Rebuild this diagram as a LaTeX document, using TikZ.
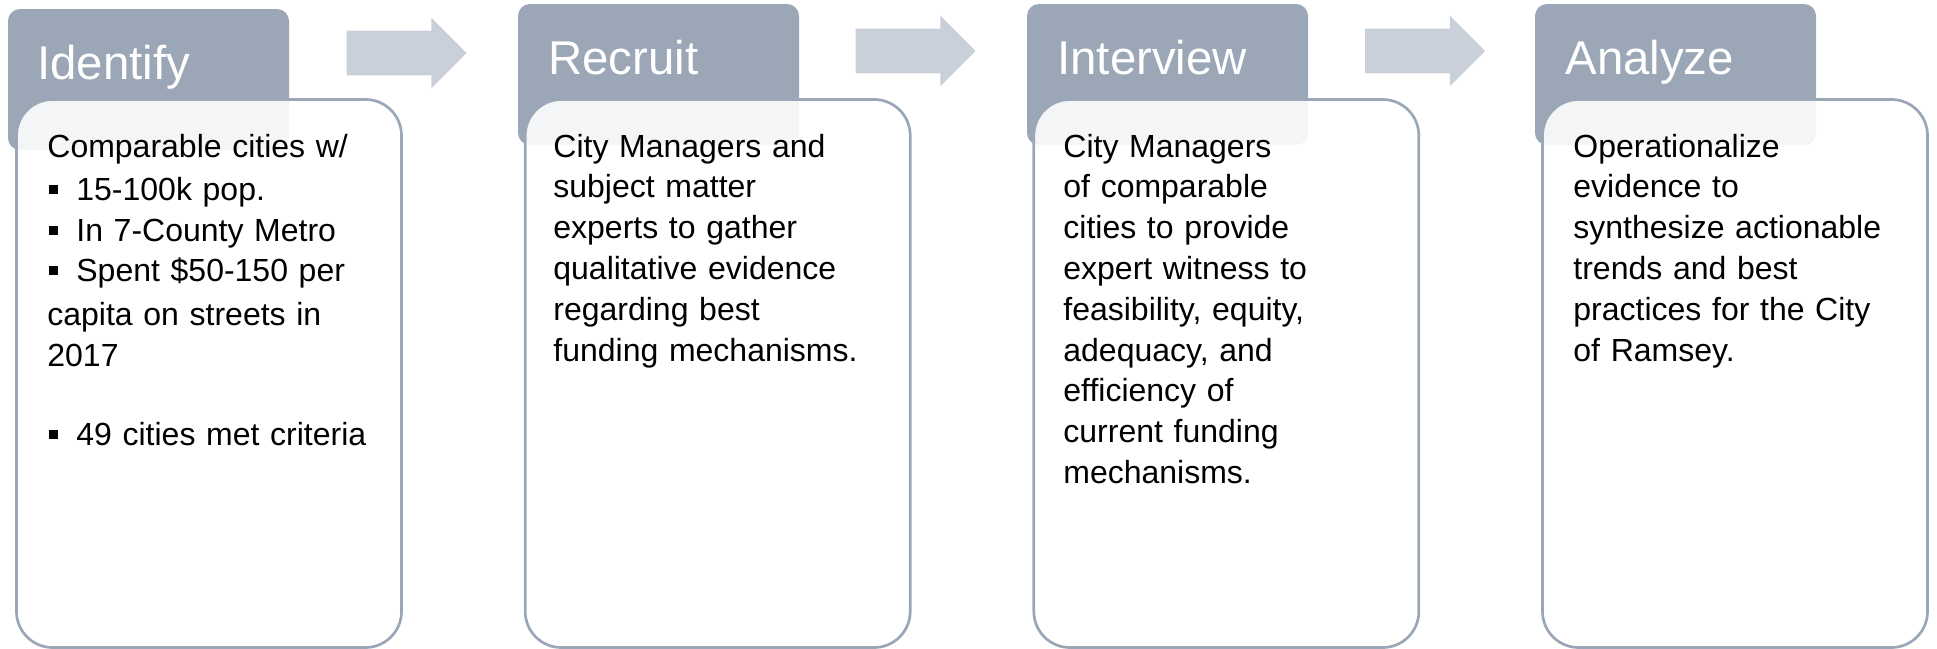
\documentclass[tikz,border=0pt]{standalone}
\usepackage{fontspec}
\setmainfont{Liberation Sans}
\usetikzlibrary{shapes.arrows}
\definecolor{tabgray}{HTML}{9BA7B6}
\definecolor{arrowgray}{HTML}{C9D0D9}
\definecolor{boxline}{HTML}{9BA7B6}
\newcommand{\sqitem}{\makebox[14.5pt][l]{\hspace{1pt}\rule[3.3pt]{4.5pt}{4.5pt}}}
\begin{document}
\begin{tikzpicture}[x=0.5pt, y=-0.5pt,
    tab/.style={rectangle, fill=tabgray, rounded corners=6pt, minimum width=140.5pt, minimum height=70.5pt, inner sep=0pt, outer sep=0pt, anchor=north west},
    title/.style={text=white, font=\fontsize{23.7pt}{28pt}\selectfont, inner sep=0pt, anchor=base west},
    card/.style={rectangle, draw=boxline, line width=1.35pt, fill=white, fill opacity=0.89, rounded corners=18pt, minimum width=192.5pt, minimum height=274pt, inner sep=0pt, outer sep=0pt, anchor=north west},
    body/.style={text width=185pt, align=left, inner sep=0pt, anchor=base west, font=\fontsize{16pt}{20.4pt}\selectfont},
    flow/.style={single arrow, fill=arrowgray, minimum height=60pt, text height=22pt, text depth=0pt, single arrow head extend=6.5pt, inner sep=0pt}
]
\useasboundingbox (0,0) rectangle (1937,648);

% header tabs
\node[tab] (idtab) at (8,9) {};
\node[tab] (rctab) at (518,4) {};
\node[tab] (ivtab) at (1027,4) {};
\node[tab] (antab) at (1535,4) {};

% cards over the tabs
\node[card] (idcard) at (16.5,99.5) {};
\node[card] (rccard) at (525.2,99.5) {};
\node[card] (ivcard) at (1033.8,99.5) {};
\node[card] (ancard) at (1542.5,99.5) {};

% arrows between the steps
\node[flow] (go1) at (395.5,53) {};
\node[flow] (go2) at (904.5,51) {};
\node[flow] (go3) at (1414,51) {};

% titles
\node[title] (idtitle) at (37,79) {Identify};
\node[title] (rctitle) at (548,74) {Recruit};
\node[title] (ivtitle) at (1057,74) {Interview};
\node[title] (antitle) at (1565,74) {Analyze};

% card texts
\node[body] (idtext) at (47,157.5) {Comparable cities w/\\[1pt]
\sqitem 15-100k pop.\\
\sqitem In 7-County Metro\\
\sqitem Spent \$50-150 per\\[1.5pt]
capita on streets in\\
2017\\[19pt]
\sqitem 49 cities met criteria};
\node[body] (rctext) at (553,157) {City Managers and\\
subject matter\\
experts to gather\\
qualitative evidence\\
regarding best\\
funding mechanisms.};
\node[body] (ivtext) at (1063,157) {City Managers\\
of comparable\\
cities to provide\\
expert witness to\\
feasibility, equity,\\
adequacy, and\\
efficiency of\\
current funding\\
mechanisms.};
\node[body] (antext) at (1573,157) {Operationalize\\
evidence to\\
synthesize actionable\\
trends and best\\
practices for the City\\
of Ramsey.};
\end{tikzpicture}
\end{document}
